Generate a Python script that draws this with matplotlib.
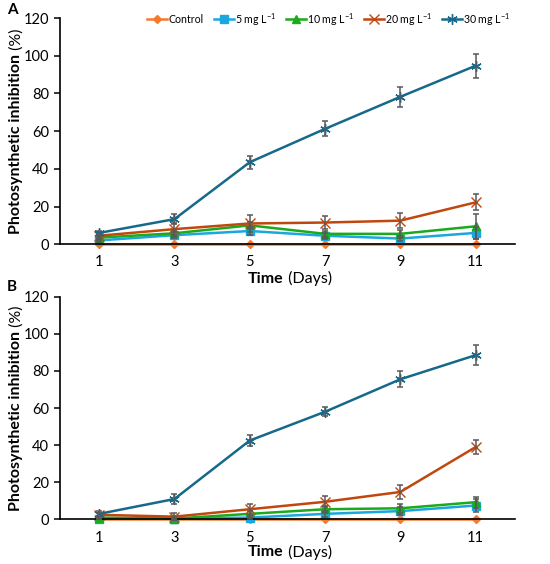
import matplotlib
matplotlib.use('Agg')
import matplotlib.pyplot as plt
import numpy as np

plt.rcParams['font.family'] = ['Lato', 'DejaVu Sans']
plt.rcParams['mathtext.fontset'] = 'custom'
plt.rcParams['mathtext.rm'] = 'Lato'
plt.rcParams['mathtext.it'] = 'Lato:italic'
plt.rcParams['mathtext.bf'] = 'Lato:bold'

days = ['1', '3', '5', '7', '9', '11']
series_names = ['Control', '5 mg L$^{-1}$', '10 mg L$^{-1}$', '20 mg L$^{-1}$', '30 mg L$^{-1}$']

# panel A
a_control = [0, 0, 0, 0, 0, 0]
a_5mg = [2.0, 4.8, 7.0, 4.5, 3.0, 6.0]
a_10mg = [3.5, 5.8, 10.0, 5.5, 5.5, 9.5]
a_20mg = [4.5, 8.0, 11.0, 11.5, 12.5, 22.2]
a_30mg = [6.0, 13.3, 43.5, 61.2, 78.2, 94.7]
a_err_5mg = [1.0, 1.5, 2.0, 1.5, 1.5, 3.0]
a_err_10mg = [1.0, 1.5, 2.0, 1.5, 2.0, 6.5]
a_err_20mg = [1.0, 3.0, 4.5, 3.5, 4.0, 4.2]
a_err_30mg = [1.0, 2.5, 3.5, 4.0, 5.2, 6.3]

# panel B
b_control = [0, 0, 0, 0, 0, 0]
b_5mg = [0.5, 0.5, 1.0, 3.0, 4.5, 7.5]
b_10mg = [1.0, 0.5, 3.0, 5.5, 6.0, 9.3]
b_20mg = [2.5, 1.5, 5.5, 9.5, 14.8, 39.0]
b_30mg = [3.0, 11.0, 42.5, 58.0, 75.5, 88.5]
b_err_5mg = [0.5, 0.5, 1.0, 1.5, 2.0, 3.5]
b_err_10mg = [1.0, 1.0, 1.5, 2.0, 2.5, 3.0]
b_err_20mg = [1.0, 2.0, 3.0, 3.0, 4.0, 4.0]
b_err_30mg = [1.5, 2.5, 3.0, 2.5, 4.3, 5.5]

colors = ['#F57B2C', '#1AA7E0', '#1BAA1B', '#C0470E', '#17698B']
markers = ['D', 's', '^', 'x', (6, 2, 0)]
msizes = [4, 6, 6, 6.5, 7.5]
mews = [1.0, 1.0, 1.0, 1.0, 1.0]

fig = plt.figure(figsize=(5.5, 5.64), dpi=100)
ax_a = fig.add_axes([0.109, 0.567, 0.827, 0.401])
ax_b = fig.add_axes([0.109, 0.079, 0.827, 0.395])


def draw_panel(ax, vals, errs):
    x = np.arange(len(days))
    handles = []
    for i, (v, e) in enumerate(zip(vals, errs)):
        if e is not None:
            ax.errorbar(x, v, yerr=e, fmt='none', ecolor='#595959',
                        elinewidth=1.1, capsize=2.5, capthick=1.1, zorder=3)
        h, = ax.plot(x, v, color=colors[i], marker=markers[i], ms=msizes[i],
                     lw=1.8, mew=mews[i], zorder=2 + i * 0.1)
        handles.append(h)
    ax.set_xlim(-0.52, 5.52)
    ax.set_ylim(0, 120)
    ax.set_yticks(range(0, 121, 20))
    ax.set_xticks(x)
    ax.set_xticklabels(days)
    ax.spines['top'].set_visible(False)
    ax.spines['right'].set_visible(False)
    ax.spines['left'].set_linewidth(1.2)
    ax.spines['bottom'].set_linewidth(1.2)
    ax.tick_params(axis='y', direction='out', length=4, width=1.1, labelsize=10.5, pad=4)
    ax.tick_params(axis='x', length=0, labelsize=10.5, pad=8)
    for ln in ax.lines:
        ln.set_clip_on(False)
    return handles


handles = draw_panel(ax_a, [a_control, a_5mg, a_10mg, a_20mg, a_30mg],
                     [None, a_err_5mg, a_err_10mg, a_err_20mg, a_err_30mg])
draw_panel(ax_b, [b_control, b_5mg, b_10mg, b_20mg, b_30mg],
           [None, b_err_5mg, b_err_10mg, b_err_20mg, b_err_30mg])

ax_a.legend(handles, series_names, loc='upper right', bbox_to_anchor=(1.0, 1.05),
            ncol=5, frameon=False, fontsize=7.6, handlelength=1.9,
            handletextpad=0.1, columnspacing=0.95, borderaxespad=0)

fig.text(0.012, 0.982, 'A', fontsize=11, fontweight='bold', va='center')
fig.text(0.012, 0.491, 'B', fontsize=11, fontweight='bold', va='center')

fig.canvas.draw()
renderer = fig.canvas.get_renderer()


def two_part_label(x, y, bold, normal, rotation=0):
    t1 = fig.text(x, y, bold, fontsize=11.5, fontweight='bold', rotation=rotation,
                  ha='center', va='center')
    t2 = fig.text(x, y, normal, fontsize=11.5, rotation=rotation,
                  ha='center', va='center')
    b1 = t1.get_window_extent(renderer)
    b2 = t2.get_window_extent(renderer)
    W, H = fig.bbox.width, fig.bbox.height
    if rotation == 0:
        total = b1.width + b2.width
        x0 = x * W - total / 2
        t1.set_position(((x0 + b1.width / 2) / W, y))
        t2.set_position(((x0 + b1.width + b2.width / 2) / W, y))
    else:
        total = b1.height + b2.height
        y0 = y * H - total / 2
        t1.set_position((x, (y0 + b1.height / 2) / H))
        t2.set_position((x, (y0 + b1.height + b2.height / 2) / H))


two_part_label(0.527, 0.506, 'Time', ' (Days)')
two_part_label(0.527, 0.021, 'Time', ' (Days)')
two_part_label(0.030, 0.767, 'Photosynthetic inhibition', ' (%)', rotation=90)
two_part_label(0.030, 0.276, 'Photosynthetic inhibition', ' (%)', rotation=90)

fig.savefig('out.png', dpi=100)
